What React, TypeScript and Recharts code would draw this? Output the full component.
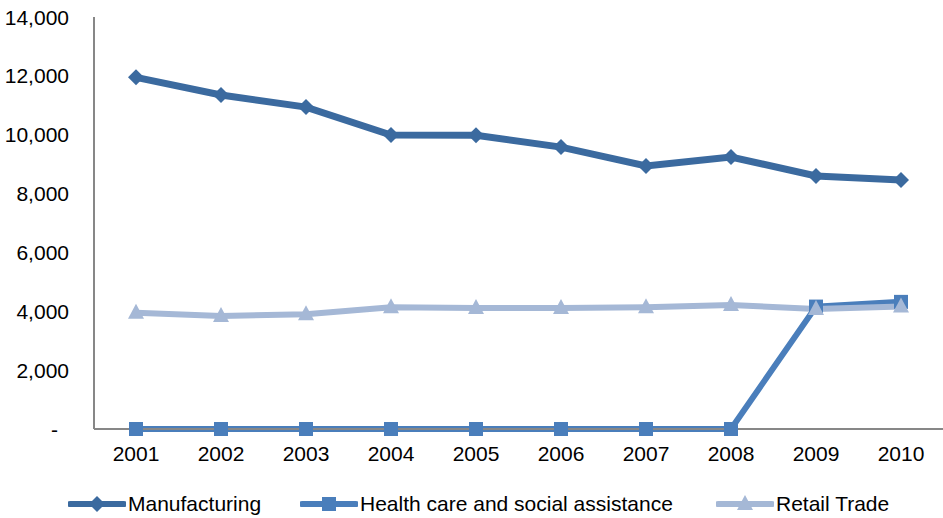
import React from 'react';
import { LineChart, Line, XAxis, YAxis } from 'recharts';

const years = ['2001', '2002', '2003', '2004', '2005', '2006', '2007', '2008', '2009', '2010'];
const manufacturing = [11950, 11350, 10940, 9990, 9980, 9580, 8940, 9240, 8600, 8460];
const health = [0, 0, 0, 0, 0, 0, 0, 0, 4160, 4320];
const retail = [3950, 3840, 3900, 4140, 4110, 4110, 4140, 4210, 4080, 4160];
const yTicks = [0, 2000, 4000, 6000, 8000, 10000, 12000, 14000];
const seriesNames = ['Manufacturing', 'Health care and social assistance', 'Retail Trade'];

const COLORS = ['#3b6a9f', '#4a7ebb', '#a5b8d6'];
const FONT = '"Liberation Sans", Arial, Helvetica, sans-serif';
const FS = 21;

const data = years.map((y, i) => ({
  year: y,
  manufacturing: manufacturing[i],
  health: health[i],
  retail: retail[i],
}));

const Diamond = (props: any) => {
  const { cx, cy, fill } = props;
  if (cx == null || cy == null) return null;
  const r = 8;
  return <polygon points={`${cx},${cy - r} ${cx + r},${cy} ${cx},${cy + r} ${cx - r},${cy}`} fill={fill} />;
};
const Square = (props: any) => {
  const { cx, cy, fill } = props;
  if (cx == null || cy == null) return null;
  const s = 7;
  return <rect x={cx - s} y={cy - s} width={2 * s} height={2 * s} fill={fill} />;
};
const Triangle = (props: any) => {
  const { cx, cy, fill } = props;
  if (cx == null || cy == null) return null;
  return <polygon points={`${cx},${cy - 9} ${cx + 8},${cy + 6} ${cx - 8},${cy + 6}`} fill={fill} />;
};

const YTick = (props: any) => {
  const { x, y, payload } = props;
  const v = payload.value as number;
  const label = v === 0 ? '-' : v.toLocaleString('en-US');
  return (
    <text x={v === 0 ? x - 11 : x} y={y} dy="0.36em" textAnchor="end" fontSize={FS} fontFamily={FONT} fill="#000">
      {label}
    </text>
  );
};

const XTick = (props: any) => {
  const { x, y, payload } = props;
  return (
    <text x={x} y={y} dy="0.71em" textAnchor="middle" fontSize={FS} fontFamily={FONT} fill="#000">
      {payload.value}
    </text>
  );
};

const legendLefts = [68, 300, 716];
const markers = [Diamond, Square, Triangle];

export default function App() {
  return (
    <div style={{ position: 'relative', width: 943, height: 518, background: '#fff' }}>
      <style>{'body{margin:0;}'}</style>
      <LineChart width={943} height={518} data={data} margin={{ top: 17, right: 0, left: 0, bottom: 49 }}>
        <XAxis
          dataKey="year"
          height={40}
          padding={{ left: 42, right: 42 }}
          tickSize={0}
          tickMargin={17}
          tick={<XTick />}
          axisLine={{ stroke: '#878787', strokeWidth: 2 }}
          tickLine={false}
        />
        <YAxis
          width={94}
          domain={[0, 14000]}
          ticks={yTicks}
          tickSize={0}
          tickMargin={25}
          tick={<YTick />}
          axisLine={{ stroke: '#878787', strokeWidth: 2 }}
          tickLine={false}
        />
        <Line
          dataKey="manufacturing"
          name={seriesNames[0]}
          stroke={COLORS[0]}
          strokeWidth={7}
          dot={<Diamond fill={COLORS[0]} />}
          activeDot={false}
          isAnimationActive={false}
        />
        <Line
          dataKey="health"
          name={seriesNames[1]}
          stroke={COLORS[1]}
          strokeWidth={6}
          dot={<Square fill={COLORS[1]} />}
          activeDot={false}
          isAnimationActive={false}
        />
        <Line
          dataKey="retail"
          name={seriesNames[2]}
          stroke={COLORS[2]}
          strokeWidth={6}
          dot={<Triangle fill={COLORS[2]} />}
          activeDot={false}
          isAnimationActive={false}
        />
      </LineChart>
      {seriesNames.map((name, i) => {
        const M = markers[i];
        return (
          <div
            key={name}
            style={{
              position: 'absolute',
              left: legendLefts[i],
              top: 492,
              display: 'flex',
              alignItems: 'center',
              fontFamily: FONT,
              fontSize: FS,
              color: '#000',
              whiteSpace: 'nowrap',
            }}
          >
            <svg width={58} height={22} style={{ display: 'block' }}>
              <line x1={2} y1={11} x2={56} y2={11} stroke={COLORS[i]} strokeWidth={6} strokeLinecap="round" />
              <M cx={29} cy={11} fill={COLORS[i]} />
            </svg>
            <span style={{ marginLeft: 2 }}>{name}</span>
          </div>
        );
      })}
    </div>
  );
}
